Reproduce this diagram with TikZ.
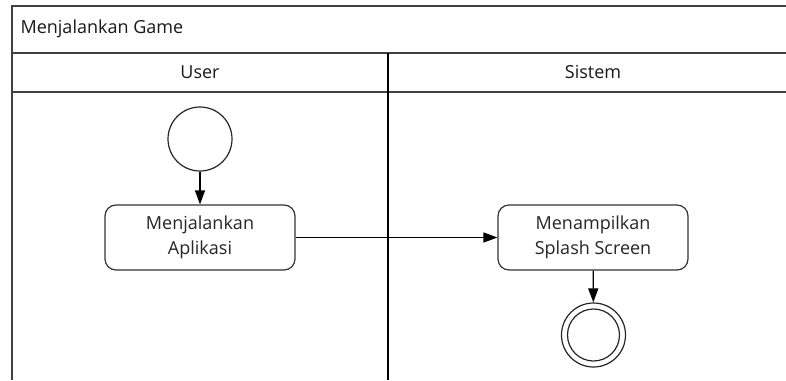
\documentclass[tikz,border=0pt]{standalone}
\usepackage{fontspec}
\setmainfont{Open Sans}
\usetikzlibrary{arrows.meta}
\begin{document}
\begin{tikzpicture}[x=1pt,y=-1pt,
  frame/.style={draw=black!75,line width=1.6pt},
  lane/.style={draw=black,line width=1.1pt},
  actbox/.style={draw=black!80,line width=1.2pt,rounded corners=11pt,minimum width=190pt,minimum height=65pt,align=center,font=\fontsize{18}{25}\selectfont,text=black!85},
  lbl/.style={font=\fontsize{18}{20}\selectfont,text=black!90},
  conn/.style={draw=black,line width=1.2pt,-{Triangle[length=14pt,width=10pt]}},
  startnode/.style={circle,draw=black!85,line width=1.2pt,minimum size=64pt,inner sep=0pt},
]
\useasboundingbox (0,0) rectangle (786,380);
\fill[white] (0,0) rectangle (786,380);
% frame
\draw[frame] (800,6) -- (12,6) -- (12,380);
\draw[frame] (12,53) -- (800,53);
\draw[frame] (12,92) -- (800,92);
\draw[lane] (388,53) -- (388,380);
\node[lbl,anchor=west] (title) at (17,29) {Menjalankan Game};
\node[lbl] (user) at (200,72) {User};
\node[lbl] (sistem) at (593,72) {Sistem};
% nodes
\node[startnode] (start) at (200,139) {};
\node[actbox] (a1) at (200,237.5) {Menjalankan\\Aplikasi};
\node[actbox] (a2) at (593,237.5) {Menampilkan\\Splash Screen};
\node[startnode] (end) at (593.5,335) {};
\node[circle,draw=black!85,line width=1.2pt,minimum size=52pt,inner sep=0pt] (endin) at (end) {};
% connectors
\draw[conn] (start) -- (a1);
\draw[conn] (a1) -- (a2);
\draw[conn] (a2) -- (end);
\end{tikzpicture}
\end{document}
